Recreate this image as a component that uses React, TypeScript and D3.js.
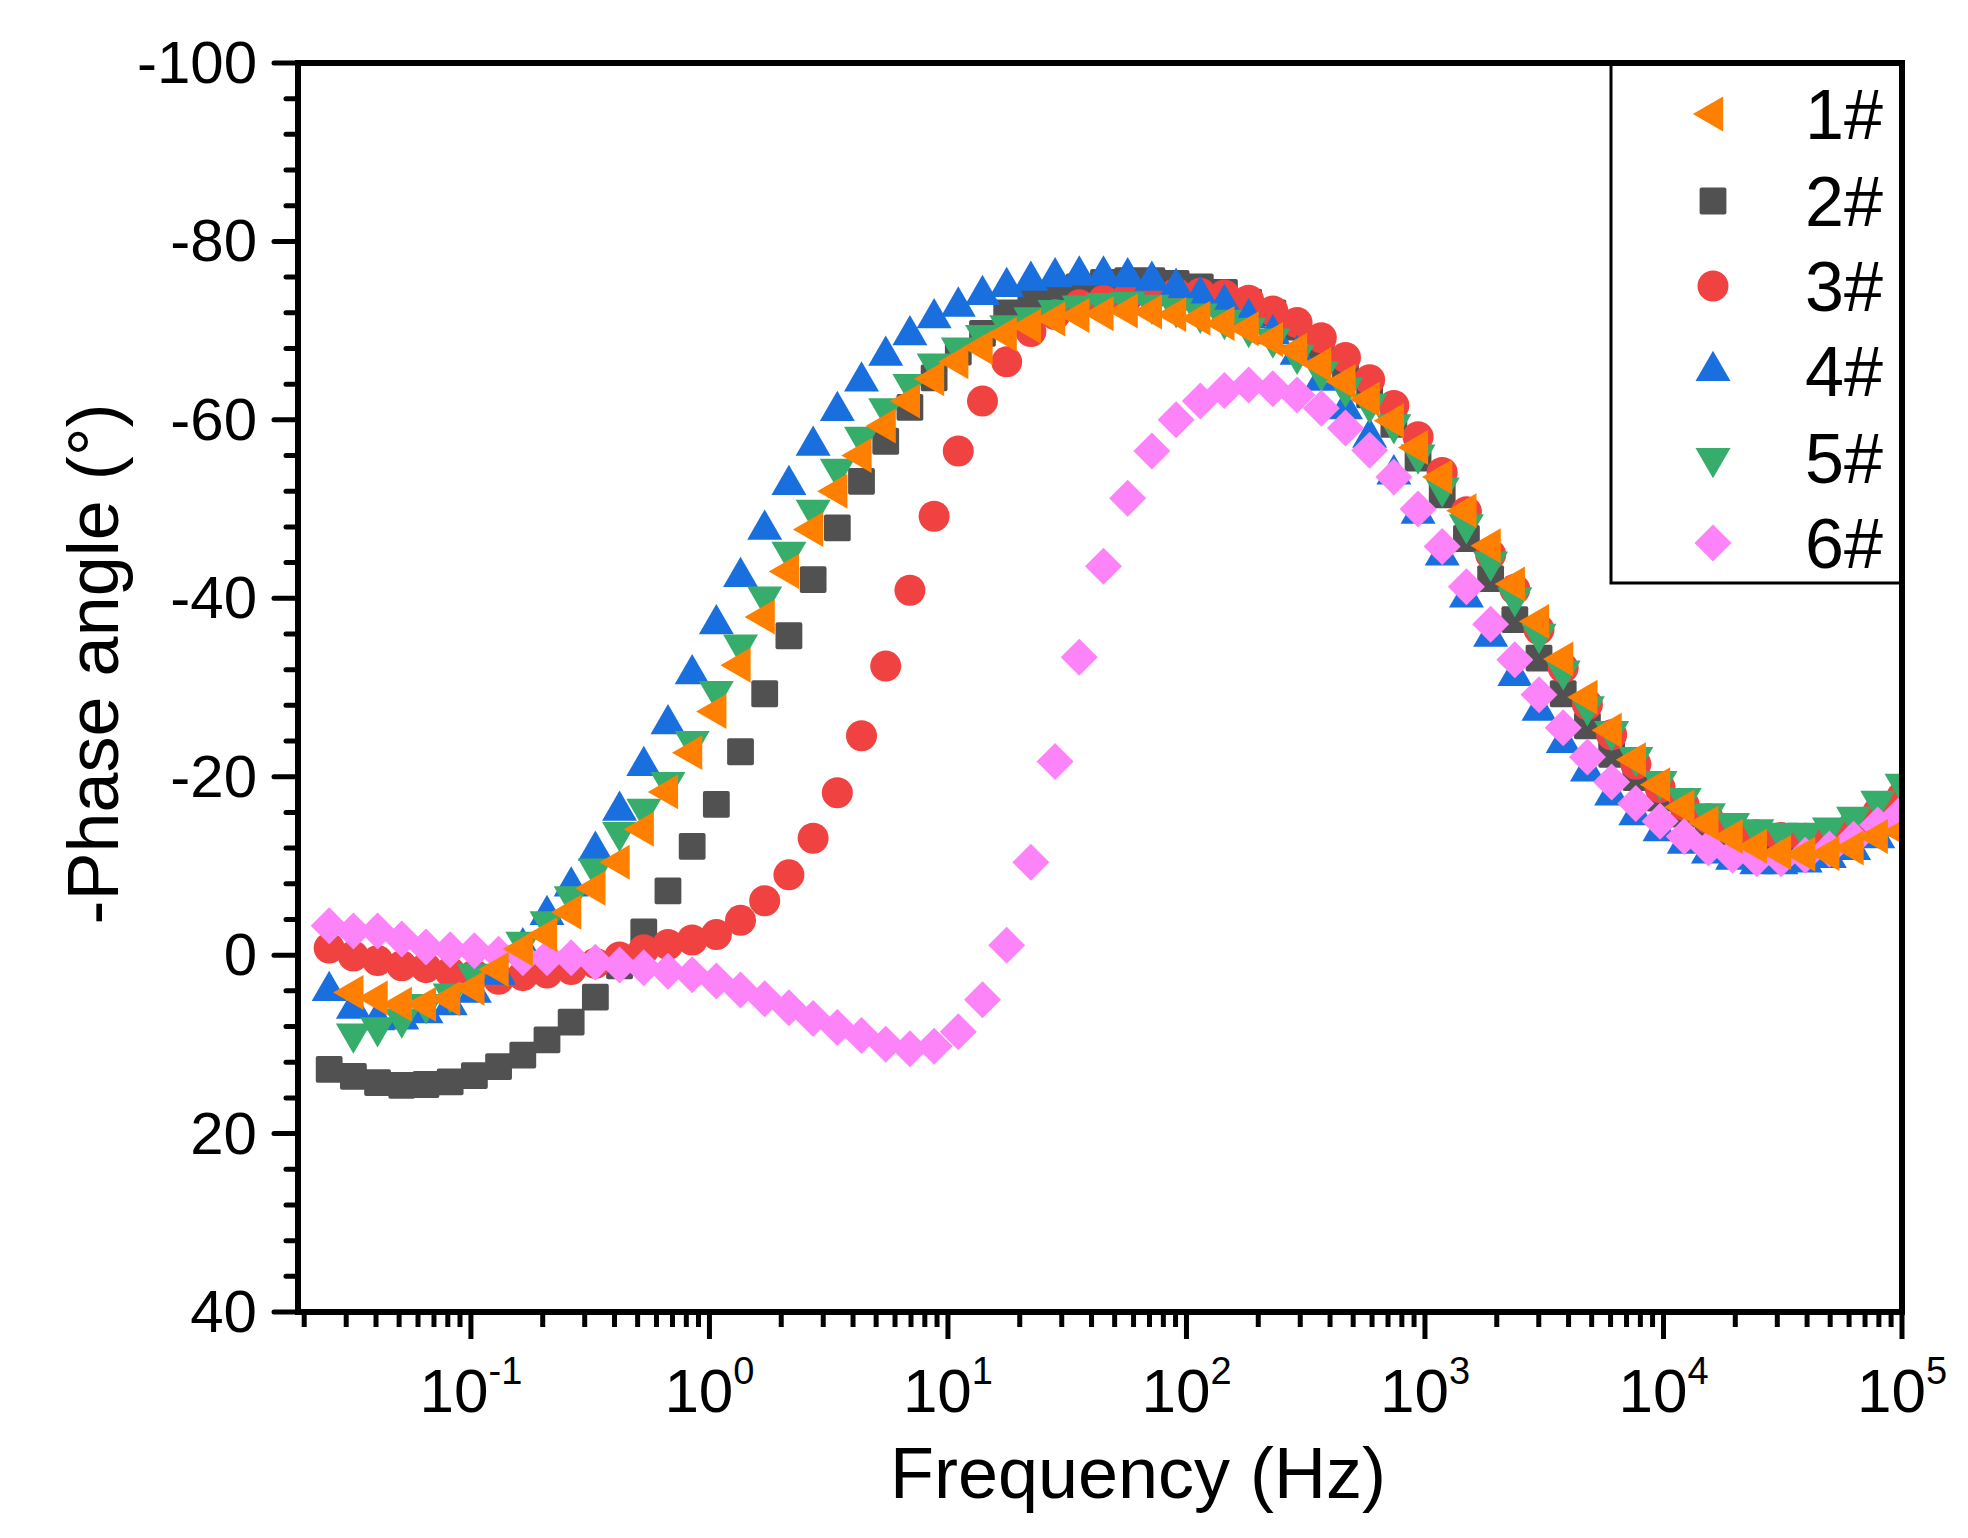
import { useRef, useEffect } from 'react'
import * as d3 from 'd3'

// frequency (Hz), highest first
const freq = [100000, 79150, 62660, 49600, 39280, 31090, 24620, 19490, 15430, 12220,
  9672, 7656, 6061, 4798, 3798, 3007, 2381, 1885, 1492, 1181,
  935.4, 740.5, 586.2, 464.2, 367.5, 290.9, 230.3, 182.3, 144.3, 114.3,
  90.48, 71.63, 56.70, 44.89, 35.53, 28.13, 22.27, 17.63, 13.96, 11.05,
  8.750, 6.927, 5.484, 4.341, 3.437, 2.721, 2.154, 1.705, 1.350, 1.069,
  0.8465, 0.6701, 0.5305, 0.4200, 0.3325, 0.2632, 0.2084, 0.1650, 0.1306, 0.1034,
  0.08184, 0.06479, 0.05129, 0.04061, 0.03215, 0.02545]

const s1 = [-13.8, -13.3, -12.0, -11.4, -11.3, -11.5, -12.2, -13.3, -14.8, -16.6,
  -19.1, -21.9, -25.2, -28.9, -33.2, -37.4, -41.6, -45.9, -49.8, -53.6,
  -56.9, -59.9, -62.3, -64.3, -66.2, -67.8, -69.0, -70.2, -70.8, -71.4,
  -71.8, -72.1, -72.2, -71.9, -71.7, -71.3, -70.5, -69.6, -68.1, -66.5,
  -64.6, -62.1, -59.3, -56.0, -52.0, -47.7, -43.0, -37.9, -32.5, -27.3,
  -22.7, -18.3, -14.1, -10.4, -7.5, -4.8, -2.3, -0.7, 1.6, 3.7,
  4.9, 5.5, 5.5, 4.8, 4.2, null]

const s2 = [-16.2, -14.8, -13.6, -12.9, -12.6, -12.6, -12.9, -13.5, -14.5, -15.8,
  -17.6, -19.9, -22.5, -25.7, -29.3, -33.3, -37.6, -42.2, -46.7, -51.6,
  -55.7, -59.5, -62.8, -65.8, -68.3, -70.4, -72.0, -73.2, -74.3, -74.9,
  -75.3, -75.6, -75.6, -75.4, -74.9, -74.2, -73.3, -72.0, -69.7, -67.6,
  -64.7, -61.4, -57.6, -53.1, -47.9, -42.1, -35.8, -29.3, -22.8, -16.9,
  -12.2, -7.2, -2.6, 1.2, 4.7, 7.5, 9.5, 11.2, 12.5, 13.5,
  14.2, 14.5, 14.6, 14.3, 13.6, 12.8]

const s3 = [-17.8, -16.0, -14.5, -13.5, -13.1, -13.2, -13.5, -14.2, -15.3, -16.8,
  -18.8, -21.4, -24.7, -28.1, -32.2, -36.5, -41.0, -44.9, -49.7, -54.1,
  -58.1, -61.6, -64.5, -67.0, -69.2, -70.9, -72.2, -73.4, -74.0, -74.2,
  -74.2, -74.1, -73.8, -73.4, -72.9, -71.8, -69.9, -66.5, -62.1, -56.5,
  -49.2, -40.9, -32.4, -24.6, -18.2, -13.1, -9.0, -6.1, -3.9, -2.3,
  -1.7, -1.2, -0.6, 0.2, 0.9, 1.6, 2.0, 2.3, 2.7, 2.2,
  1.9, 1.4, 1.2, 0.6, 0.1, -0.8]

const s4 = [-14.9, -13.1, -11.8, -10.9, -10.4, -10.2, -10.2, -10.7, -11.4, -12.5,
  -13.9, -15.7, -17.9, -20.6, -23.8, -27.4, -31.3, -35.7, -40.1, -44.8,
  -49.5, -53.9, -58.0, -61.2, -64.4, -67.3, -69.6, -71.4, -73.0, -73.9,
  -74.8, -75.6, -76.0, -76.2, -76.2, -76.0, -75.6, -74.9, -74.0, -72.7,
  -71.4, -69.5, -67.2, -64.3, -61.0, -57.1, -52.7, -47.7, -42.4, -37.1,
  -31.5, -25.9, -21.2, -16.2, -11.7, -7.7, -4.5, -0.9, 2.2, 4.2,
  5.6, 6.5, 7.2, 7.3, 6.0, 4.0]

const s5 = [-19.2, -17.3, -15.5, -14.3, -13.7, -13.7, -14.1, -14.8, -15.9, -17.6,
  -19.5, -22.2, -25.1, -27.9, -31.9, -36.0, -40.1, -44.1, -48.3, -52.4,
  -56.1, -59.5, -61.8, -63.6, -65.4, -67.3, -69.1, -70.3, -71.2, -71.9,
  -72.5, -72.9, -73.2, -73.1, -72.8, -72.3, -71.5, -70.6, -69.5, -68.1,
  -66.3, -64.0, -61.3, -58.1, -54.5, -49.9, -45.2, -40.2, -34.8, -29.6,
  -24.0, -19.4, -16.4, -13.8, -9.7, -6.6, -3.8, -1.5, 0.4, 2.1,
  4.3, 5.5, 7.1, 8.1, 8.8, null]

const s6 = [-16.0, -14.6, -13.0, -11.9, -11.2, -10.8, -10.8, -11.2, -12.0, -13.3,
  -15.0, -17.0, -19.4, -22.2, -25.5, -29.2, -33.1, -37.1, -41.3, -45.8,
  -50.0, -53.6, -56.6, -59.1, -61.3, -62.8, -63.5, -63.9, -63.3, -62.1,
  -60.0, -56.5, -51.2, -43.6, -33.4, -21.7, -10.4, -1.1, 5.0, 8.6,
  10.2, 10.5, 10.0, 9.0, 8.1, 7.1, 5.9, 4.9, 3.9, 2.9,
  2.2, 1.8, 1.4, 1.1, 0.8, 0.3, 0.3, 0.3, -0.1, -0.5,
  -0.6, -0.9, -1.8, -2.7, -2.7, -3.3]

const names = ['1#', '2#', '3#', '4#', '5#', '6#']
const colors = ['#ff8000', '#515151', '#f14242', '#1a6fdf', '#37ad6b', '#fd84f8']
const shapes = ['left', 'square', 'circle', 'up', 'down', 'diamond']
const seriesData = [s1, s2, s3, s4, s5, s6]
const drawOrder = [1, 2, 3, 4, 5, 0]

const yTicks = [-100, -80, -60, -40, -20, 0, 20, 40]
const xExps = [-1, 0, 1, 2, 3, 4, 5]

const FONT = 'Arial, "Liberation Sans", Helvetica, sans-serif'

export default function App() {
  const svgRef = useRef<SVGSVGElement | null>(null)

  useEffect(() => {
    if (!svgRef.current) return
    const svg = d3.select(svgRef.current)
    svg.selectAll('*').remove()

    const left = 298, right = 1902, top = 63, bottom = 1312
    const x = d3.scaleLog().domain([Math.pow(10, -1.725), 1e5]).range([left, right])
    const y = d3.scaleLinear().domain([-100, 40]).range([top, bottom])

    svg.append('rect').attr('width', 1968).attr('height', 1538).attr('fill', '#fff')

    svg.append('clipPath').attr('id', 'plotclip')
      .append('rect').attr('x', left).attr('y', top).attr('width', right - left).attr('height', bottom - top)

    const triPath = d3.symbol().type(d3.symbolTriangle).size(530)()!

    const marker = (g: any, shape: string, color: string, cx: number, cy: number) => {
      if (shape === 'circle') {
        g.append('circle').attr('cx', cx).attr('cy', cy).attr('r', 15.5).attr('fill', color)
      } else if (shape === 'square') {
        g.append('rect').attr('x', cx - 13.4).attr('y', cy - 13.4)
          .attr('width', 26.8).attr('height', 26.8).attr('rx', 2).attr('fill', color)
      } else if (shape === 'diamond') {
        const r = 18.5
        g.append('path').attr('d', `M${cx},${cy - r}L${cx + r},${cy}L${cx},${cy + r}L${cx - r},${cy}Z`)
          .attr('fill', color)
      } else {
        const rot = shape === 'left' ? -90 : shape === 'down' ? 180 : 0
        g.append('path').attr('d', triPath)
          .attr('transform', `translate(${cx},${cy}) rotate(${rot})`).attr('fill', color)
      }
    }

    // data markers
    const plot = svg.append('g').attr('clip-path', 'url(#plotclip)')
    drawOrder.forEach(si => {
      const g = plot.append('g')
      seriesData[si].forEach((v, k) => {
        if (v === null) return
        marker(g, shapes[si], colors[si], x(freq[k]), y(v))
      })
    })

    // frame
    const frame = svg.append('g').attr('stroke', '#000').attr('fill', 'none')
    frame.append('rect').attr('x', left).attr('y', top)
      .attr('width', right - left).attr('height', bottom - top).attr('stroke-width', 6)

    // y ticks
    const yAxis = svg.append('g').attr('stroke', '#000').attr('stroke-linecap', 'round')
    d3.range(-100, 40.1, 4).forEach(v => {
      const major = yTicks.includes(v)
      yAxis.append('line').attr('x1', left).attr('x2', left - (major ? 24 : 12))
        .attr('y1', y(v)).attr('y2', y(v)).attr('stroke-width', 5)
    })
    yTicks.forEach(v => {
      svg.append('text').attr('x', 257).attr('y', y(v) + 20)
        .attr('text-anchor', 'end').attr('font-family', FONT).attr('font-size', 60)
        .text(String(v))
    })

    // x ticks
    const xAxis = svg.append('g').attr('stroke', '#000')
    const [d0, d1] = x.domain()
    for (let e = -2; e <= 5; e++) {
      for (let m = 1; m <= 9; m++) {
        const f = m * Math.pow(10, e)
        if (f < d0 * 0.999 || f > d1 * 1.001) continue
        const major = m === 1
        xAxis.append('line').attr('x1', x(f)).attr('x2', x(f))
          .attr('y1', bottom).attr('y2', bottom + (major ? 27 : 15)).attr('stroke-width', 5)
      }
    }
    xExps.forEach(e => {
      const t = svg.append('text').attr('x', x(Math.pow(10, e))).attr('y', 1412)
        .attr('text-anchor', 'middle').attr('font-family', FONT).attr('font-size', 62)
      t.append('tspan').text('10')
      t.append('tspan').attr('dy', -28).attr('font-size', 38).text(String(e))
    })

    // axis titles
    svg.append('text').attr('x', 1138).attr('y', 1498)
      .attr('text-anchor', 'middle').attr('font-family', FONT).attr('font-size', 72)
      .text('Frequency (Hz)')
    svg.append('text').attr('transform', 'translate(118,664) rotate(-90)')
      .attr('text-anchor', 'middle').attr('font-family', FONT).attr('font-size', 72)
      .text('-Phase angle (°)')

    // legend
    const leg = svg.append('g')
    leg.append('rect').attr('x', 1611).attr('y', top).attr('width', right - 1611).attr('height', 583 - top)
      .attr('fill', '#fff').attr('stroke', '#000').attr('stroke-width', 3)
    const rowY = [114, 201, 286, 371, 458, 543]
    names.forEach((n, i) => {
      marker(leg, shapes[i], colors[i], 1713, rowY[i])
      leg.append('text').attr('x', 1805).attr('y', rowY[i] + 25)
        .attr('font-family', FONT).attr('font-size', 70).text(n)
    })
    // redraw the frame edges over the legend box
    svg.append('line').attr('x1', 1608).attr('x2', right + 3).attr('y1', top).attr('y2', top)
      .attr('stroke', '#000').attr('stroke-width', 6)
    svg.append('line').attr('x1', right).attr('x2', right).attr('y1', top).attr('y2', 590)
      .attr('stroke', '#000').attr('stroke-width', 6)
  }, [])

  return (
    <div style={{ position: 'absolute', left: 0, top: 0 }}>
      <svg ref={svgRef} width={1968} height={1538} viewBox="0 0 1968 1538" style={{ display: 'block' }} />
    </div>
  )
}
